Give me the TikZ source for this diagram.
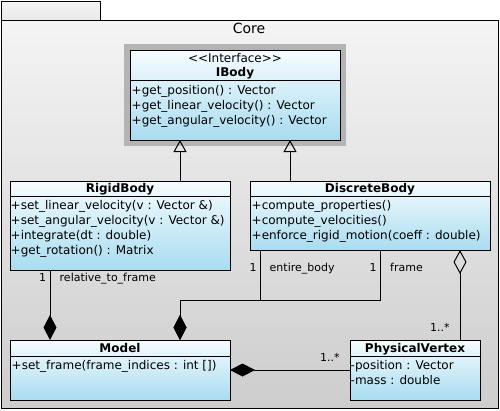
\documentclass[tikz,border=0pt]{standalone}
\usepackage{fontspec}
\setmainfont{DejaVu Sans}
\usetikzlibrary{arrows.meta,calc}
\definecolor{pkgtop}{HTML}{F4F4F4}
\definecolor{pkgbot}{HTML}{CDCDCD}
\definecolor{clstop}{HTML}{F6FCFE}
\definecolor{clsbot}{HTML}{A8DCF0}
\definecolor{ifframe}{HTML}{B4B4B4}
\begin{document}
\begin{tikzpicture}[x=1pt,y=-1pt,
  box/.style={draw, line width=1pt, anchor=north west, inner sep=0pt, outer sep=0pt},
  cls/.style={box, top color=clstop, bottom color=clsbot},
  txt/.style={anchor=base west, inner sep=0pt, font=\fontsize{12}{14}\selectfont},
  ttl/.style={anchor=base, inner sep=0pt, font=\fontsize{12}{14}\selectfont\bfseries},
  lbl/.style={anchor=base west, inner sep=0pt, font=\fontsize{11}{13}\selectfont},
  conn/.style={line width=1pt},
  gen/.style={conn, -{Triangle[open,length=12pt,width=13pt]}},
  comp/.style={conn, -{Diamond[length=25pt,width=13pt]}},
  agg/.style={conn, -{Diamond[open,length=24pt,width=13pt]}}]
\useasboundingbox (0,0) rectangle (500,410);
% package
\node[box, top color=pkgtop, bottom color=pkgtop!70!pkgbot, minimum width=99pt, minimum height=19pt] (tab) at (1,1) {};
\node[box, top color=pkgtop, bottom color=pkgbot, minimum width=497pt, minimum height=388pt] (pkg) at (1,20) {};
\node[anchor=base, inner sep=0pt, font=\fontsize{14}{16}\selectfont] (corelbl) at (249,33) {Core};
% IBody
\node[box, draw=none, fill=ifframe, minimum width=222pt, minimum height=102pt] (ibf) at (124,44) {};
\node[cls, minimum width=210pt, minimum height=90pt] (ib) at (130,50) {};
\draw[conn] ($(ib.north west)+(0,30)$) -- ($(ib.north east)+(0,30)$);
\node[txt, anchor=base] (ibs) at (235,62.5) {{<}{<}Interface{>}{>}};
\node[ttl] (ibt) at (235,76.5) {IBody};
\node[txt] (ib1) at (131.5,94.5) {+get\_position() : Vector};
\node[txt] (ib2) at (131.5,109.5) {+get\_linear\_velocity() : Vector};
\node[txt] (ib3) at (131.5,124.5) {+get\_angular\_velocity() : Vector};
% RigidBody
\node[cls, minimum width=220pt, minimum height=89pt] (rb) at (10,181) {};
\draw[conn] ($(rb.north west)+(0,15)$) -- ($(rb.north east)+(0,15)$);
\node[ttl] (rbt) at (120,192.5) {RigidBody};
\node[txt] (rb1) at (10.5,209) {+set\_linear\_velocity(v : Vector \&)};
\node[txt] (rb2) at (10.5,224) {+set\_angular\_velocity(v : Vector \&)};
\node[txt] (rb3) at (10.5,239) {+integrate(dt : double)};
\node[txt] (rb4) at (10.5,254) {+get\_rotation() : Matrix};
% DiscreteBody
\node[cls, minimum width=240pt, minimum height=69pt] (db) at (250,181) {};
\draw[conn] ($(db.north west)+(0,15)$) -- ($(db.north east)+(0,15)$);
\node[ttl] (dbt) at (370,192.5) {DiscreteBody};
\node[txt] (db1) at (251.5,209) {+compute\_properties()};
\node[txt] (db2) at (251.5,224) {+compute\_velocities()};
\node[txt] (db3) at (251.5,239) {+enforce\_rigid\_motion(coeff : double)};
% Model
\node[cls, minimum width=220pt, minimum height=60pt] (md) at (10,340) {};
\draw[conn] ($(md.north west)+(0,16)$) -- ($(md.north east)+(0,16)$);
\node[ttl] (mdt) at (120,352.5) {Model};
\node[txt] (md1) at (11.5,369.5) {+set\_frame(frame\_indices : int [])};
% PhysicalVertex
\node[cls, minimum width=130pt, minimum height=60pt] (pv) at (350,340) {};
\draw[conn] ($(pv.north west)+(0,16)$) -- ($(pv.north east)+(0,16)$);
\node[ttl] (pvt) at (415,352.5) {PhysicalVertex};
\node[txt] (pv1) at (350.5,369.5) {-position : Vector};
\node[txt] (pv2) at (350.5,384.5) {-mass : double};
% generalizations
\draw[gen] ($(rb.north west)+(170,0)$) -- ($(ib.south west)+(50,0)$);
\draw[gen] ($(db.north west)+(40,0)$) -- ($(ib.south west)+(160,0)$);
% compositions
\coordinate (rbout) at ($(rb.south west)+(40,0)$);
\coordinate (mdin1) at ($(md.north west)+(40,0)$);
\coordinate (mdin2) at ($(md.north west)+(170,0)$);
\coordinate (dbent) at ($(db.south west)+(10,0)$);
\coordinate (dbfr) at ($(db.south west)+(130,0)$);
\coordinate (joint) at (dbfr |- 0,300);
\draw[comp] (rbout) -- (mdin1);
\draw[comp] (dbfr) -- (joint) -| (mdin2);
\draw[comp] (dbent) |- (mdin2 |- joint) -- (mdin2);
\draw[comp] (pv.west) -- (md.east);
% aggregation
\coordinate (pvtop) at ($(pv.north west)+(110,0)$);
\coordinate (dbagg) at ($(db.south west)+(210,0)$);
\draw[agg] (pvtop) -- (dbagg);
% labels
\node[lbl] (l1) at (39,281) {1};
\node[lbl] (l2) at (59.5,281) {relative\_to\_frame};
\node[lbl] (l3) at (249.5,271) {1};
\node[lbl] (l4) at (269.5,271) {entire\_body};
\node[lbl] (l5) at (369.5,271) {1};
\node[lbl] (l6) at (390,271) {frame};
\node[lbl] (l7) at (430,331) {1..*};
\node[lbl] (l8) at (320,361) {1..*};
\end{tikzpicture}
\end{document}
